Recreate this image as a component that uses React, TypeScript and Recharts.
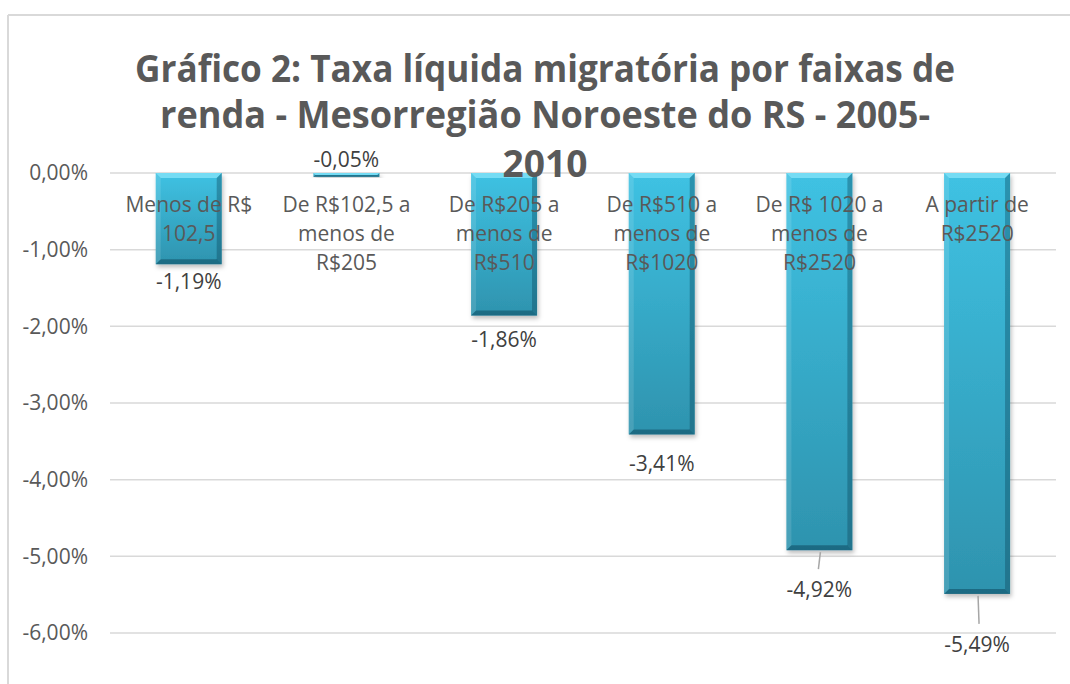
import React from "react";
import {
  BarChart,
  Bar,
  XAxis,
  YAxis,
  CartesianGrid,
  LabelList
} from "recharts";

// faixas de renda (quebras de linha como no original)
const categories = [
  "Menos de R$\n102,5",
  "De R$102,5 a\nmenos de\nR$205",
  "De R$205 a\nmenos de\nR$510",
  "De R$510 a\nmenos de\nR$1020",
  "De R$ 1020 a\nmenos de\nR$2520",
  "A partir de\nR$2520"
];

// taxa líquida migratória (%)
const taxa = [-1.19, -0.05, -1.86, -3.41, -4.92, -5.49];

const yTicks = [0, -1, -2, -3, -4, -5, -6];

const titleLines = [
  "Gráfico 2: Taxa líquida migratória por faixas de",
  "renda - Mesorregião Noroeste do RS - 2005-",
  "2010"
];

const chartData = categories.map((c, i) => ({ faixa: c, taxa: taxa[i] }));

const W = 1070;
const H = 684;
const FONT = "'Open Sans', 'Noto Sans', sans-serif";

const fmt = (v: number) => v.toFixed(2).replace(".", ",") + "%";

// label placement tweaks (Excel moved some labels by hand)
const labelGap = [25, 0, 31, 37, 47, 58];

const CategoryTick = ({ x, y, payload }: any) => {
  const lines = String(payload.value).split("\n");
  return (
    <g>
      {lines.map((l, i) => (
        <text
          key={i}
          x={x}
          y={y + 39 + i * 29}
          textAnchor="middle"
          fill="#595959"
          fontSize={21}
          fontFamily={FONT}
        >
          {l}
        </text>
      ))}
    </g>
  );
};

const BevelBar = (props: any) => {
  const { x, y, width, height } = props;
  if (x == null || y == null) return null;
  const top = Math.min(y, y + height);
  const h = Math.abs(height);
  const w = width;
  const b = Math.min(5, h / 2);
  return (
    <g filter="url(#barShadow)">
      <rect x={x} y={top} width={w} height={h} fill="url(#barGrad)" />
      <polygon
        points={`${x},${top} ${x + w},${top} ${x + w - b},${top + b} ${x + b},${top + b}`}
        fill="#74dcf4"
      />
      <polygon
        points={`${x},${top} ${x + b},${top + b} ${x + b},${top + h - b} ${x},${top + h}`}
        fill="rgba(255,255,255,0.12)"
      />
      <polygon
        points={`${x + w},${top} ${x + w},${top + h} ${x + w - b},${top + h - b} ${x + w - b},${top + b}`}
        fill="rgba(10,60,80,0.35)"
      />
      <polygon
        points={`${x},${top + h} ${x + w},${top + h} ${x + w - b},${top + h - b} ${x + b},${top + h - b}`}
        fill="rgba(10,60,80,0.45)"
      />
    </g>
  );
};

const ValueLabel = (props: any) => {
  const { x, y, width, height, value, index } = props;
  const cx = x + width / 2;
  const end = Math.max(y, y + height);
  if (index === 1) {
    // tiny bar: label sits above zero line
    return (
      <text x={cx} y={Math.min(y, y + height) - 6} textAnchor="middle" fill="#404040" fontSize={21} fontFamily={FONT}>
        {fmt(value)}
      </text>
    );
  }
  const gap = labelGap[index] ?? 25;
  return (
    <g>
      {gap > 40 && (
        <line x1={cx + 1} y1={end + 2} x2={cx - 1 + (index === 5 ? 3 : 0)} y2={end + gap - 28} stroke="#a6a6a6" strokeWidth={1.5} />
      )}
      <text x={cx} y={end + gap} textAnchor="middle" fill="#404040" fontSize={21} fontFamily={FONT}>
        {fmt(value)}
      </text>
    </g>
  );
};

export default function App() {
  return (
    <div style={{ position: "absolute", left: 0, top: 0, width: W, height: H, background: "#fff" }}>
      <BarChart
        width={W}
        height={H}
        data={chartData}
        margin={{ top: 143, right: 14, bottom: 51, left: 0 }}
        barCategoryGap="29%"
      >
        <defs>
          <linearGradient id="barGrad" x1="0" y1="0" x2="0" y2="1">
            <stop offset="0%" stopColor="#3fc2e3" />
            <stop offset="100%" stopColor="#2e93ae" />
          </linearGradient>
          <filter id="barShadow" x="-20%" y="-5%" width="140%" height="115%">
            <feDropShadow dx="1.5" dy="3" stdDeviation="2" floodColor="#000" floodOpacity="0.25" />
          </filter>
        </defs>
        <CartesianGrid vertical={false} stroke="#d9d9d9" strokeWidth={1.5} />
        <YAxis
          type="number"
          domain={[-6, 0]}
          ticks={yTicks}
          interval={0}
          width={110}
          axisLine={false}
          tickLine={false}
          tickMargin={16}
          tickFormatter={fmt}
          tick={{ fill: "#595959", fontSize: 21, fontFamily: FONT }}
        />
        <Bar dataKey="taxa" shape={<BevelBar />} isAnimationActive={false}>
          <LabelList dataKey="taxa" content={<ValueLabel />} />
        </Bar>
        <XAxis
          dataKey="faixa"
          orientation="top"
          height={30}
          axisLine={false}
          tickLine={false}
          tickSize={0}
          tickMargin={0}
          interval={0}
          tick={<CategoryTick />}
        />
      </BarChart>
      <svg
        width={W}
        height={H}
        style={{ position: "absolute", left: 0, top: 0, pointerEvents: "none" }}
      >
        <line x1={8} y1={15} x2={W} y2={15} stroke="#d9d9d9" strokeWidth={2} />
        <line x1={8} y1={15} x2={8} y2={H} stroke="#d9d9d9" strokeWidth={2} />
        {titleLines.map((t, i) => (
          <text
            key={i}
            x={545}
            y={[82, 128, 177][i]}
            textAnchor="middle"
            fill="#595959"
            fontSize={38}
            fontWeight="bold"
            fontFamily={FONT}
            textLength={[820, 770, 85][i]}
            lengthAdjust="spacingAndGlyphs"
          >
            {t}
          </text>
        ))}
      </svg>
    </div>
  );
}
